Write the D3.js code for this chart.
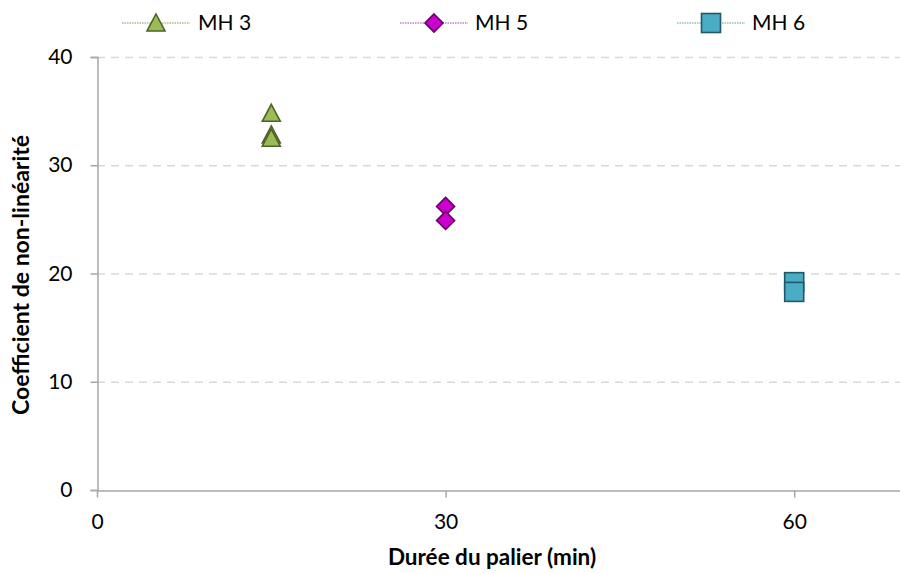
<!DOCTYPE html>
<html>
<head>
<meta charset="utf-8">
<script src="https://cdn.jsdelivr.net/npm/d3@7"></script>
<style>
  body { margin: 0; background: #fff; }
  svg { display: block; }
  text { font-family: Lato, "Open Sans", sans-serif; fill: #000; }
</style>
</head>
<body>
<svg id="chart" width="900" height="574"></svg>
<script>
// ---- data ----
const seriesNames = ["MH 3", "MH 5", "MH 6"];
const mh3X = [15, 15, 15];
const mh3Y = [34.8, 32.8, 32.5];
const mh5X = [30, 30];
const mh5Y = [26.2, 24.9];
const mh6X = [60, 60];
const mh6Y = [19.2, 18.3];
const xTicks = [0, 30, 60];
const yTicks = [0, 10, 20, 30, 40];
const xTitle = "Durée du palier (min)";
const yTitle = "Coefficient de non-linéarité";

// ---- layout ----
const W = 900, H = 574;
const x0 = 97, y0 = 490, yTop = 57;
const svg = d3.select("#chart");

const x = d3.scaleLinear().domain([0, 70]).range([x0, x0 + 70 * 11.62]);
const y = d3.scaleLinear().domain([0, 40]).range([y0, yTop]);

const axisColor = "#a6a6a6";
const gridColor = "#d9d9d9";
const font = "Lato, 'Open Sans', sans-serif";

// gridlines
svg.append("g").selectAll("line").data(yTicks.filter(d => d > 0)).join("line")
  .attr("x1", x0).attr("x2", W)
  .attr("y1", d => y(d) + 0.5).attr("y2", d => y(d) + 0.5)
  .attr("stroke", gridColor).attr("stroke-width", 1.5)
  .attr("stroke-dasharray", "8,6");

// y axis
const yAxis = svg.append("g").attr("transform", `translate(${x0 + 0.5},0)`)
  .call(d3.axisLeft(y).tickValues(yTicks).tickSize(7).tickPadding(18).tickFormat(d3.format("d")));
yAxis.select(".domain").attr("stroke", axisColor).attr("stroke-width", 1.5);
yAxis.selectAll(".tick line").attr("stroke", axisColor).attr("stroke-width", 1.5);
yAxis.selectAll(".tick text").attr("font-size", 21).attr("font-family", font).attr("fill", "#000");

// x axis
const xAxis = svg.append("g").attr("transform", `translate(0,${y0 + 0.5})`)
  .call(d3.axisBottom(x).tickValues(xTicks).tickSize(7).tickSizeOuter(0).tickPadding(17).tickFormat(d3.format("d")));
xAxis.select(".domain").attr("stroke", axisColor).attr("stroke-width", 1.5);
xAxis.selectAll(".tick line").attr("stroke", axisColor).attr("stroke-width", 1.5);
xAxis.selectAll(".tick text").attr("font-size", 21).attr("font-family", font).attr("fill", "#000");

// axis titles
svg.append("text").attr("x", 492).attr("y", 565)
  .attr("text-anchor", "middle").attr("font-size", 22.5).attr("font-weight", "bold")
  .text(xTitle);
svg.append("text")
  .attr("transform", `translate(29,275) rotate(-90)`)
  .attr("text-anchor", "middle").attr("font-size", 23).attr("font-weight", "bold")
  .text(yTitle);

// marker shapes
const styles = [
  { fill: "#9bbb59", stroke: "#4f6228", line: "#7f9a48" },
  { fill: "#cc00cc", stroke: "#660066", line: "#a040a0" },
  { fill: "#4bacc6", stroke: "#215968", line: "#5f97a8" }
];
function triangle(g) {
  g.append("path").attr("d", "M0,-9 L9,8 L-9,8 Z");
}
function diamond(g) {
  g.append("path").attr("d", "M0,-9 L9,0 L0,9 L-9,0 Z");
}
function square(g) {
  g.append("rect").attr("x", -9.5).attr("y", -9.5).attr("width", 19).attr("height", 19);
}
const shapes = [triangle, diamond, square];

const series = [
  { xs: mh3X, ys: mh3Y },
  { xs: mh5X, ys: mh5Y },
  { xs: mh6X, ys: mh6Y }
];

series.forEach((s, i) => {
  const pts = s.xs.map((xv, j) => [xv, s.ys[j]]);
  const g = svg.append("g");
  pts.forEach(p => {
    const m = g.append("g").attr("transform", `translate(${x(p[0])},${y(p[1])})`)
      .attr("fill", styles[i].fill).attr("stroke", styles[i].stroke).attr("stroke-width", 1.6);
    shapes[i](m);
  });
});

// legend
const legendItems = [
  { lx: 122, text: 198 },
  { lx: 400, text: 475 },
  { lx: 677, text: 752 }
];
const ly = 23;
seriesNames.forEach((name, i) => {
  const it = legendItems[i];
  svg.append("line").attr("x1", it.lx).attr("x2", it.lx + 68)
    .attr("y1", ly).attr("y2", ly)
    .attr("stroke", styles[i].line).attr("stroke-width", 1.2).attr("stroke-dasharray", "1.5,1");
  const m = svg.append("g").attr("transform", `translate(${it.lx + 34},${ly})`)
    .attr("fill", styles[i].fill).attr("stroke", styles[i].stroke).attr("stroke-width", 1.6);
  shapes[i](m);
  svg.append("text").attr("x", it.text).attr("y", ly).attr("dy", "0.35em")
    .attr("font-size", 21).text(name);
});
</script>
</body>
</html>
